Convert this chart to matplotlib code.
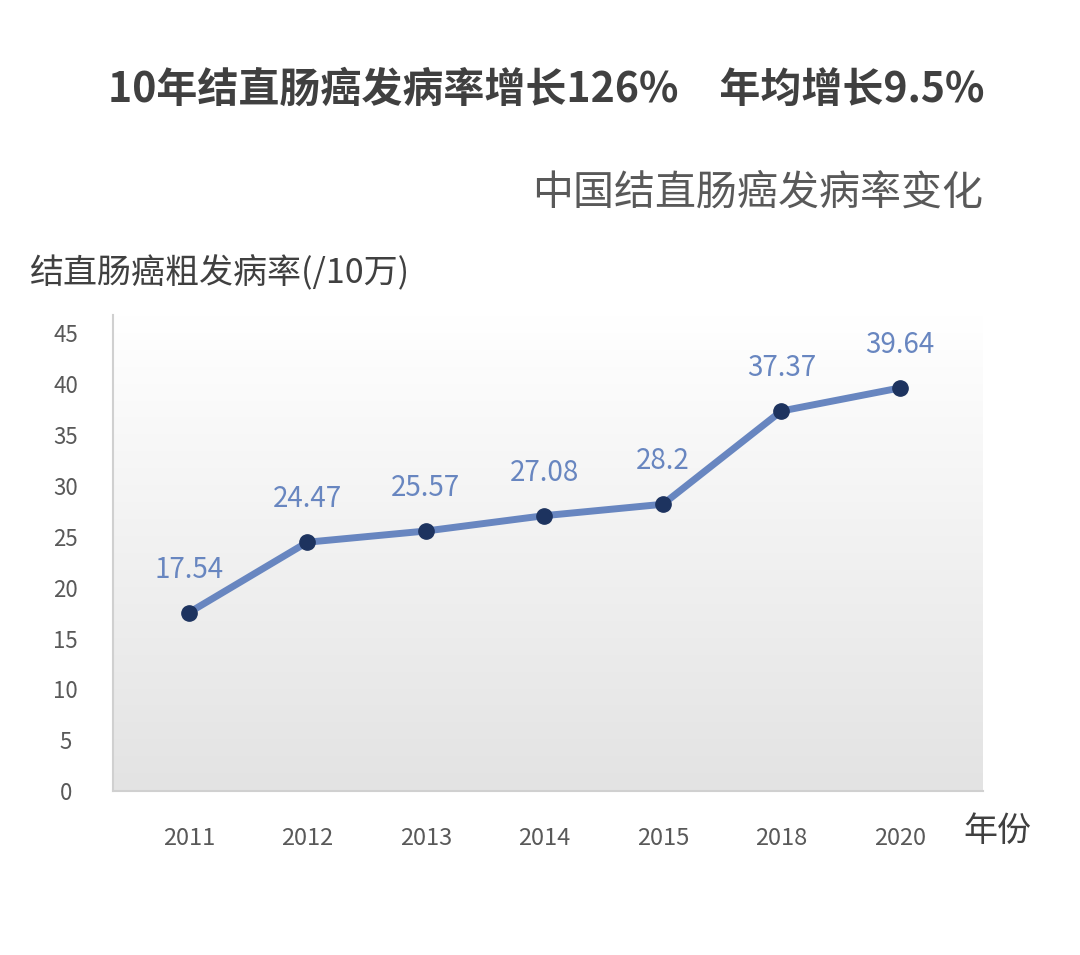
import matplotlib
matplotlib.use("Agg")
import matplotlib.pyplot as plt
import numpy as np
from matplotlib.colors import LinearSegmentedColormap

plt.rcParams['font.family'] = ['Noto Sans CJK SC', 'DejaVu Sans']

years = ['2011', '2012', '2013', '2014', '2015', '2018', '2020']
rates = [17.54, 24.47, 25.57, 27.08, 28.2, 37.37, 39.64]
yticks = [0, 5, 10, 15, 20, 25, 30, 35, 40, 45]

title = '10年结直肠癌发病率增长126%\u3000年均增长9.5%'
subtitle = '中国结直肠癌发病率变化'
ylabel = '结直肠癌粗发病率(/10万)'
xlabel = '年份'

line_color = '#6886c0'
marker_color = '#1d335f'
text_gray = '#595959'

fig = plt.figure(figsize=(10.8, 9.55), dpi=100)
ax = fig.add_axes([0.1046, 0.1717, 0.8054, 0.4983])

x = np.arange(len(years))
ax.set_xlim(-0.64, 6.70)
ax.set_ylim(0, 46.8)

# gradient background: white at top, light gray at bottom
grad = np.linspace(0.0, 1.0, 256).reshape(-1, 1)
cmap = LinearSegmentedColormap.from_list('g', ['#ffffff', '#e3e3e3'])
ax.imshow(grad, extent=[0, 1, 0, 1], transform=ax.transAxes, cmap=cmap,
          vmin=0, vmax=1, aspect='auto', zorder=0)

ax.plot(x, rates, color=line_color, lw=5, zorder=2, solid_capstyle='round')
ax.plot(x, rates, 'o', color=marker_color, ms=11, zorder=3)

for xi, v in zip(x, rates):
    ax.annotate(f'{v:g}', (xi, v), xytext=(0, 31), textcoords='offset points',
                ha='center', va='center', fontsize=20, color=line_color)

ax.set_xticks(x)
ax.set_xticklabels(years)
ax.set_yticks(yticks)
ax.tick_params(axis='both', length=0, labelcolor=text_gray)
ax.tick_params(axis='x', pad=26, labelsize=17)
ax.tick_params(axis='y', pad=34, labelsize=16)
for lab in ax.get_yticklabels():
    lab.set_horizontalalignment('center')

for s in ['top', 'right']:
    ax.spines[s].set_visible(False)
ax.spines['left'].set_color('#d0d0d0')
ax.spines['bottom'].set_color('#d0d0d0')
ax.spines['left'].set_linewidth(1.5)
ax.spines['bottom'].set_linewidth(1.5)

fig.text(0.506, 0.906, title, ha='center', va='center', fontsize=29.5,
         fontweight='bold', color='#404040')
fig.text(0.910, 0.798, subtitle, ha='right', va='center', fontsize=29.5,
         color=text_gray)
fig.text(0.028, 0.714, ylabel, ha='left', va='center', fontsize=24.5,
         color='#404040')
fig.text(0.892, 0.129, xlabel, ha='left', va='center', fontsize=24.5,
         color='#404040')

fig.savefig('out.png', dpi=100, facecolor='white')
